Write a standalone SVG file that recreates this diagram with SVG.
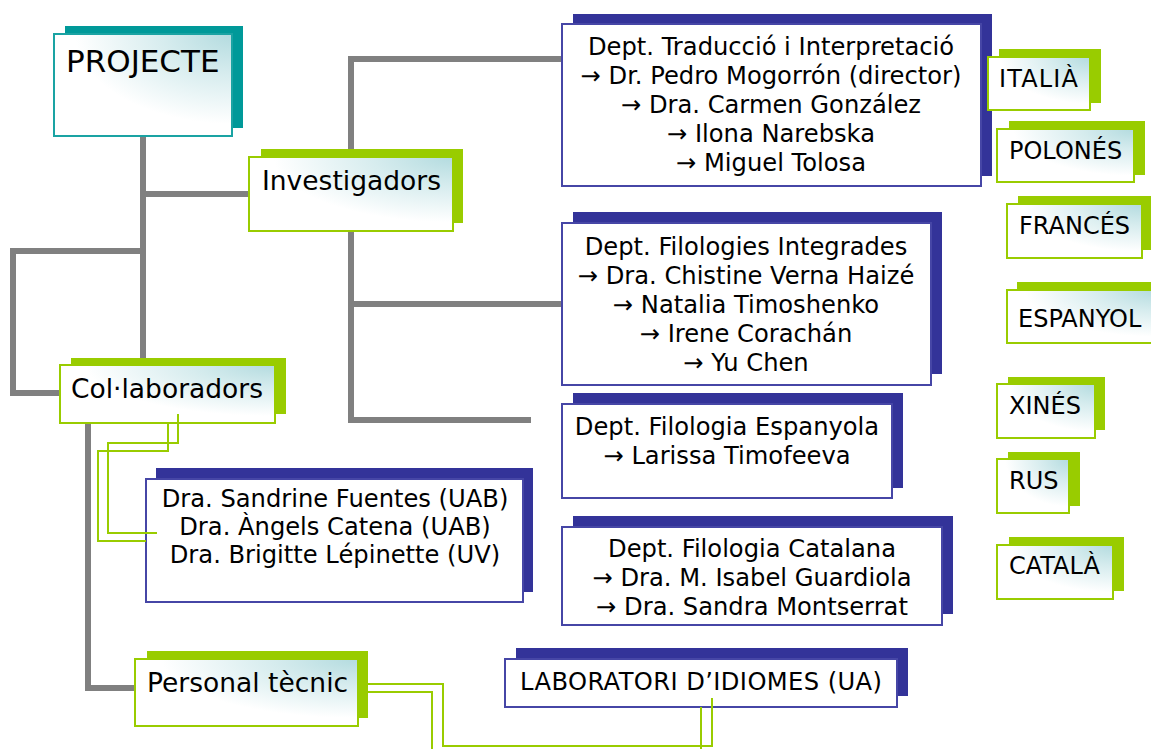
<svg xmlns="http://www.w3.org/2000/svg" width="1151" height="749" viewBox="0 0 1151 749">
<style>
.sg{fill:#99CC00}
.sb{fill:#333399}
.st{fill:#009999}
.bg{fill:url(#lg);stroke:#99CC00;stroke-width:2}
.bt{fill:url(#lg);stroke:#1AA3A3;stroke-width:2}
.bb{fill:#fff;stroke:#4646A6;stroke-width:2}
text{font-family:"DejaVu Sans",Verdana,sans-serif;fill:#000}
.l2{font-size:26.5px}
.d{font-size:24.2px;text-anchor:middle}
.lang{font-size:24px}
.gray{stroke:#808080;stroke-width:6;fill:none}
.grn{stroke:#99CC00;stroke-width:2;fill:none}
</style>
<defs>
<radialGradient id="lg" cx="1" cy="0" r="1.1" fx="1" fy="0">
<stop offset="0" stop-color="#B3DBDF"/>
<stop offset="0.35" stop-color="#D6ECEE"/>
<stop offset="0.8" stop-color="#FFFFFF"/>
</radialGradient>
</defs>
<rect width="1151" height="749" fill="#fff"/>

<g id="gray-connectors">
<path class="gray" d="M143,136 V358"/>
<path class="gray" d="M143,194 H249"/>
<path class="gray" d="M143,251 H13 V393 H60"/>
<path class="gray" d="M88,423 V688 H135"/>
<path class="gray" d="M351,59 H562"/>
<path class="gray" d="M351,56 V423"/>
<path class="gray" d="M351,304 H562"/>
<path class="gray" d="M348,420 H531"/>
</g>

<g id="projecte">
<rect class="st" x="65" y="26" width="178" height="102"/>
<rect class="bt" x="54" y="34" width="178" height="102"/>
<text x="66" y="72" style="font-size:31px">PROJECTE</text>
</g>

<g id="investigadors">
<rect class="sg" x="261" y="149" width="202" height="74"/>
<rect class="bg" x="249" y="157" width="204" height="74"/>
<text class="l2" x="262" y="190">Investigadors</text>
</g>

<g id="collaboradors">
<rect class="sg" x="71" y="358" width="215" height="56"/>
<rect class="bg" x="60" y="365" width="215" height="58"/>
<text class="l2" x="71" y="398">Col·laboradors</text>
</g>

<g id="personal-tecnic">
<rect class="sg" x="147" y="651" width="221" height="67"/>
<rect class="bg" x="135" y="659" width="223" height="67"/>
<text class="l2" x="147" y="692">Personal tècnic</text>
</g>

<g id="dept-traduccio">
<rect class="sb" x="573" y="14" width="419" height="162"/>
<rect class="bb" x="562" y="24" width="419" height="162"/>
<text class="d" x="771" y="55">Dept. Traducció i Interpretació</text>
<text class="d" x="771" y="84">→ Dr. Pedro Mogorrón (director)</text>
<text class="d" x="771" y="113">→ Dra. Carmen González</text>
<text class="d" x="771" y="142">→ Ilona Narebska</text>
<text class="d" x="771" y="171">→ Miguel Tolosa</text>
</g>

<g id="dept-filologies-integrades">
<rect class="sb" x="573" y="212" width="369" height="162"/>
<rect class="bb" x="562" y="223" width="369" height="162"/>
<text class="d" x="746" y="255">Dept. Filologies Integrades</text>
<text class="d" x="746" y="284">→ Dra. Chistine Verna Haizé</text>
<text class="d" x="746" y="313">→ Natalia Timoshenko</text>
<text class="d" x="746" y="342">→ Irene Corachán</text>
<text class="d" x="746" y="371">→ Yu Chen</text>
</g>

<g id="dept-filologia-espanyola">
<rect class="sb" x="573" y="393" width="330" height="95"/>
<rect class="bb" x="562" y="404" width="330" height="94"/>
<text class="d" x="727" y="435">Dept. Filologia Espanyola</text>
<text class="d" x="727" y="464">→ Larissa Timofeeva</text>
</g>

<g id="dept-filologia-catalana">
<rect class="sb" x="573" y="516" width="380" height="98"/>
<rect class="bb" x="562" y="527" width="380" height="98"/>
<text class="d" x="752" y="557">Dept. Filologia Catalana</text>
<text class="d" x="752" y="586">→ Dra. M. Isabel Guardiola</text>
<text class="d" x="752" y="615">→ Dra. Sandra Montserrat</text>
</g>

<g id="collaboradors-list">
<rect class="sb" x="156" y="468" width="377" height="124"/>
<rect class="bb" x="146" y="479" width="377" height="123"/>
<text class="d" x="335" y="507">Dra. Sandrine Fuentes (UAB)</text>
<text class="d" x="335" y="535">Dra. Àngels Catena (UAB)</text>
<text class="d" x="335" y="563">Dra. Brigitte Lépinette (UV)</text>
</g>

<g id="laboratori">
<rect class="sb" x="516" y="648" width="392" height="48"/>
<rect class="bb" x="505" y="659" width="392" height="48"/>
<text class="d" x="701" y="690" textLength="362" lengthAdjust="spacing">LABORATORI D’IDIOMES (UA)</text>
</g>

<g id="lang-italia">
<rect class="sg" x="999" y="49" width="102" height="54"/>
<rect class="bg" x="988" y="57" width="102" height="53"/>
<text class="lang" x="999" y="87" textLength="79" lengthAdjust="spacing">ITALIÀ</text>
</g>
<g id="lang-polones">
<rect class="sg" x="1009" y="121" width="136" height="54"/>
<rect class="bg" x="997" y="129" width="137" height="53"/>
<text class="lang" x="1009" y="159">POLONÉS</text>
</g>
<g id="lang-frances">
<rect class="sg" x="1018" y="196" width="140" height="54"/>
<rect class="bg" x="1007" y="204" width="135" height="54"/>
<text class="lang" x="1019" y="234">FRANCÉS</text>
</g>
<g id="lang-espanyol">
<rect class="sg" x="1017" y="282" width="140" height="54"/>
<rect class="bg" x="1007" y="290" width="150" height="53"/>
<text class="lang" x="1018" y="327">ESPANYOL</text>
</g>
<g id="lang-xines">
<rect class="sg" x="1008" y="377" width="97" height="53"/>
<rect class="bg" x="997" y="384" width="98" height="54"/>
<text class="lang" x="1009" y="414">XINÉS</text>
</g>
<g id="lang-rus">
<rect class="sg" x="1008" y="452" width="72" height="54"/>
<rect class="bg" x="997" y="459" width="72" height="54"/>
<text class="lang" x="1009" y="489">RUS</text>
</g>
<g id="lang-catala">
<rect class="sg" x="1009" y="537" width="115" height="54"/>
<rect class="bg" x="997" y="545" width="116" height="54"/>
<text class="lang" x="1009" y="574">CATALÀ</text>
</g>

<g id="green-connectors">
<path class="grn" d="M178,414 V443 H108 V533 H157"/>
<path class="grn" d="M168,423 V451 H98 V541 H146"/>
<path class="grn" d="M368,684 H443 V746 H712 V698"/>
<path class="grn" d="M368,692 H432 V760 H701 V707"/>
</g>
</svg>
